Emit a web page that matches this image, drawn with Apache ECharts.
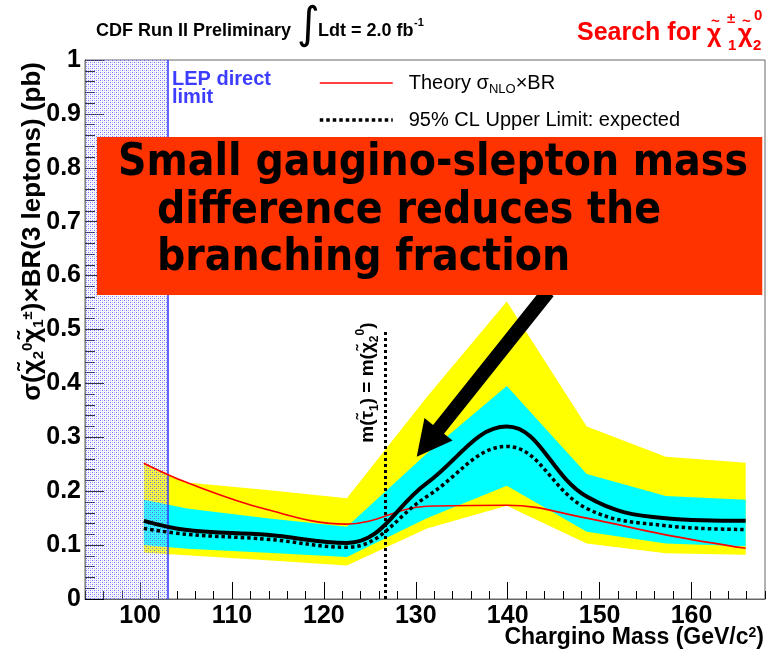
<!DOCTYPE html>
<html>
<head>
<meta charset="utf-8">
<script src="https://cdn.jsdelivr.net/npm/echarts@6/dist/echarts.min.js"></script>
<style>
  html, body { margin: 0; padding: 0; background: #fff; }
  #chart { width: 772px; height: 658px; }
</style>
</head>
<body>
<div id="chart"></div>
<script>
// Chargino mass points (GeV/c^2) at which the limits were evaluated
const massPoints = [100.4, 105.1, 113.8, 122.5, 131.2, 139.9, 148.6, 157.2, 165.9];
// Expected-limit bands (pb): +-2 sigma (yellow) and +-1 sigma (cyan)
const band2Low  = [0.086, 0.081, 0.072, 0.062, 0.131, 0.173, 0.103, 0.085, 0.082];
const band2High = [0.252, 0.216, 0.202, 0.187, 0.375, 0.552, 0.320, 0.264, 0.253];
const band1Low  = [0.100, 0.093, 0.086, 0.078, 0.150, 0.210, 0.125, 0.103, 0.098];
const band1High = [0.184, 0.168, 0.150, 0.134, 0.270, 0.395, 0.232, 0.191, 0.184];
// Observed and expected 95% CL upper limits, and NLO theory cross section x BR
const observed  = [0.145, 0.128, 0.119, 0.104, 0.215, 0.320, 0.190, 0.150, 0.145];
const expected  = [0.131, 0.120, 0.111, 0.096, 0.190, 0.283, 0.168, 0.136, 0.129];
const theory    = [0.252, 0.216, 0.166, 0.139, 0.172, 0.174, 0.150, 0.119, 0.094];

// Axis ranges and tick labels
const massMin = 94, massMax = 168;
const xTickLabels = [100, 110, 120, 130, 140, 150, 160];
const lepLimit = 103;          // LEP direct chargino limit
const staunMass = 126.7;       // m(stau1) = m(chi2^0)
const staunLineTop = 0.5;
// Callout: text box and arrow (data coordinates)
const noteBox = { x0: 95.3, x1: 167.7, y0: 0.564, y1: 0.857 };
const arrowTail = [144.4, 0.57];
const arrowTip = [130.1, 0.264];
const noteLines = ['Small gaugino-slepton mass', 'difference reduces the', 'branching fraction'];

const FONT = '"Liberation Sans", Arial, Helvetica, sans-serif';
const THEORY = 'Theory sigmaNLO x BR';
const EXPECTED = '95% CL Upper Limit: expected';

const pairs = ys => massPoints.map((x, i) => [x, ys[i]]);

// Filled band between two curves, drawn as one polygon through the axis scales
function bandSeries(name, lo, hi, color, z) {
  return {
    name, type: 'custom', silent: true, z,
    data: massPoints.map((x, i) => [x, lo[i], hi[i]]),
    encode: { x: 0, y: [1, 2] },
    renderItem: (params, api) => {
      if (params.dataIndex !== 0) return;
      const upper = massPoints.map((x, i) => api.coord([x, hi[i]]));
      const lower = massPoints.map((x, i) => api.coord([x, lo[i]])).reverse();
      return { type: 'polygon', shape: { points: upper.concat(lower) }, style: { fill: color } };
    }
  };
}

// Fine dot texture for the LEP-excluded region
function dotPattern() {
  const c = document.createElement('canvas');
  c.width = 4; c.height = 4;
  const g = c.getContext('2d');
  g.fillStyle = 'rgba(225,225,255,0.25)';
  g.fillRect(0, 0, 4, 4);
  g.fillStyle = 'rgba(60,60,255,0.7)';
  g.fillRect(0, 0, 1, 1); g.fillRect(2, 2, 1, 1);
  g.fillStyle = 'rgba(120,120,255,0.45)';
  g.fillRect(2, 0, 1, 1); g.fillRect(0, 2, 1, 1);
  return c;
}

const chart = echarts.init(document.getElementById('chart'), null, { renderer: 'canvas' });

chart.setOption({
  animation: false,
  backgroundColor: '#ffffff',
  grid: { left: 85, right: 7, top: 60, bottom: 59, show: true, borderColor: '#666', borderWidth: 1 },
  xAxis: [
    {
      type: 'value', min: massMin, max: massMax, position: 'bottom',
      axisLine: { show: true, lineStyle: { color: '#666', width: 1 } },
      axisTick: { show: true, inside: true, length: 17, customValues: xTickLabels, lineStyle: { color: '#000' } },
      axisLabel: { show: true, customValues: xTickLabels, margin: 5, fontFamily: FONT, fontWeight: 'bold', fontSize: 25, color: '#000' },
      splitLine: { show: false }
    },
    {
      type: 'value', min: massMin, max: massMax, interval: 2, position: 'bottom',
      axisLine: { show: false },
      axisTick: { show: true, inside: true, length: 8, lineStyle: { color: '#000' } },
      axisLabel: { show: false }, splitLine: { show: false }
    }
  ],
  yAxis: {
    type: 'value', min: 0, max: 1, interval: 0.1,
    axisLine: { show: true, lineStyle: { color: '#666', width: 1 } },
    axisTick: { show: true, inside: true, length: 19, lineStyle: { color: '#000' } },
    minorTick: { show: true, splitNumber: 5, length: 10, lineStyle: { color: '#000' } },
    axisLabel: { margin: 4, fontFamily: FONT, fontWeight: 'bold', fontSize: 25, color: '#000' },
    splitLine: { show: false }, minorSplitLine: { show: false }
  },
  legend: {
    data: [
      { name: THEORY, lineStyle: { color: '#ff0000', width: 1.6, type: 'solid' } },
      { name: EXPECTED, lineStyle: { color: '#000', width: 3.5, type: [3.5, 3] } }
    ],
    orient: 'vertical', left: 318, top: 73, padding: 0,
    itemWidth: 73, itemHeight: 14, itemGap: 14, selectedMode: false,
    itemStyle: { opacity: 0 },
    formatter: name => name === THEORY ? '{t|Theory σ}{s|NLO}{t|×BR}' : '{t|' + name + '}',
    textStyle: {
      color: '#000', fontFamily: FONT, fontSize: 20, padding: [0, 0, 0, 11],
      rich: {
        t: { fontFamily: FONT, fontSize: 20, color: '#000', lineHeight: 26 },
        s: { fontFamily: FONT, fontSize: 13, color: '#000', lineHeight: 14, verticalAlign: 'bottom' }
      }
    }
  },
  series: [
    bandSeries('band2', band2Low, band2High, '#ffff00', 1),
    bandSeries('band1', band1Low, band1High, '#00ffff', 2),
    { name: 'lep-excluded', type: 'line', data: [], silent: true, z: 3,
      markArea: { silent: true, z: 3, label: { show: false }, itemStyle: { color: { image: dotPattern(), repeat: 'repeat' } },
        data: [[{ coord: [massMin, 0] }, { coord: [lepLimit, 1] }]] } },
    { name: 'lep-line', type: 'line', data: [], silent: true, z: 4,
      markLine: { silent: true, z: 4, symbol: ['none', 'none'], label: { show: false },
        lineStyle: { color: '#3333ff', width: 1.5, type: 'solid' }, data: [{ xAxis: lepLimit }] } },
    { name: THEORY, type: 'line', data: pairs(theory), symbol: 'none', smooth: 0.4, silent: true, z: 5,
      lineStyle: { color: '#ff0000', width: 1.6 }, itemStyle: { color: '#ff0000' } },
    { name: 'staun-line', type: 'line', data: [], silent: true, z: 5,
      markLine: { silent: true, z: 5, symbol: ['none', 'none'], label: { show: false },
        lineStyle: { color: '#000', width: 3, type: [3, 3] },
        data: [[{ coord: [staunMass, 0] }, { coord: [staunMass, staunLineTop] }]] } },
    { name: EXPECTED, type: 'line', data: pairs(expected), symbol: 'none', smooth: 0.4, silent: true, z: 6,
      lineStyle: { color: '#000', width: 3.5, type: [3.5, 3] }, itemStyle: { color: '#000' } },
    { name: 'observed', type: 'line', data: pairs(observed), symbol: 'none', smooth: 0.4, silent: true, z: 7,
      lineStyle: { color: '#000', width: 4 } }
  ]
});

// Annotations placed from data coordinates
const px = p => chart.convertToPixel({ xAxisIndex: 0, yAxisIndex: 0 }, p);
const boxA = px([noteBox.x0, noteBox.y1]);
const boxB = px([noteBox.x1, noteBox.y0]);
const tail = px(arrowTail), tip = px(arrowTip);
const dx = tip[0] - tail[0], dy = tip[1] - tail[1];
const len = Math.hypot(dx, dy);
const ux = dx / len, uy = dy / len, nx = -uy, ny = ux;
const headLen = 35, headHalf = 18, shaftHalf = 7;
const bx = tip[0] - ux * headLen, by = tip[1] - uy * headLen;
const arrowPts = [
  [tail[0] + nx * shaftHalf, tail[1] + ny * shaftHalf],
  [bx + nx * shaftHalf, by + ny * shaftHalf],
  [bx + nx * headHalf, by + ny * headHalf],
  tip,
  [bx - nx * headHalf, by - ny * headHalf],
  [bx - nx * shaftHalf, by - ny * shaftHalf],
  [tail[0] - nx * shaftHalf, tail[1] - ny * shaftHalf]
];
const staunPx = px([staunMass, 0.29]);

const bold = (size, color) => ({ fontFamily: FONT, fontWeight: 'bold', fontSize: size, fill: color || '#000' });
const RED = '#ff0000';

const graphics = [
  // header
  { type: 'text', x: 96, y: 31, style: Object.assign({ text: 'CDF Run II Preliminary', verticalAlign: 'middle' }, bold(18)) },
  { type: 'text', x: 297, y: 27, style: { text: '∫', fontFamily: '"DejaVu Sans", sans-serif', fontSize: 44, fill: '#000', verticalAlign: 'middle' } },
  { type: 'text', x: 318, y: 31, style: Object.assign({ text: 'Ldt = 2.0 fb', verticalAlign: 'middle' }, bold(18)) },
  { type: 'text', x: 414, y: 23, style: Object.assign({ text: '-1', verticalAlign: 'middle' }, bold(11)) },
  { type: 'text', x: 577, y: 33, style: Object.assign({ text: 'Search for', verticalAlign: 'middle' }, bold(25, RED)) },
  { type: 'text', x: 707, y: 35, style: Object.assign({ text: 'χ', verticalAlign: 'middle' }, bold(25, RED)) },
  { type: 'text', x: 711, y: 22, style: Object.assign({ text: '~', verticalAlign: 'middle' }, bold(15, RED)) },
  { type: 'text', x: 727, y: 19, style: Object.assign({ text: '±', verticalAlign: 'middle' }, bold(15, RED)) },
  { type: 'text', x: 728, y: 46, style: Object.assign({ text: '1', verticalAlign: 'middle' }, bold(15, RED)) },
  { type: 'text', x: 738, y: 35, style: Object.assign({ text: 'χ', verticalAlign: 'middle' }, bold(25, RED)) },
  { type: 'text', x: 742, y: 22, style: Object.assign({ text: '~', verticalAlign: 'middle' }, bold(15, RED)) },
  { type: 'text', x: 754, y: 16, style: Object.assign({ text: '0', verticalAlign: 'middle' }, bold(15, RED)) },
  { type: 'text', x: 753, y: 46, style: Object.assign({ text: '2', verticalAlign: 'middle' }, bold(15, RED)) },
  // LEP label
  { type: 'text', x: 172, y: 70, z: 10, style: Object.assign({ text: 'LEP direct\nlimit', lineHeight: 18 }, bold(20, '#3d3dff')) },
  // y-axis title
  { type: 'text', x: 33, y: 62, rotation: Math.PI / 2, style: {
      text: '{n|σ(χ̃}{sub|2}{sup|0}{n|χ̃}{sub|1}{sup|±}{n|)×BR(3 leptons) (pb)}',
      align: 'right', verticalAlign: 'middle',
      rich: {
        n: bold(26),
        sub: Object.assign({ lineHeight: 16, verticalAlign: 'bottom' }, bold(15)),
        sup: Object.assign({ lineHeight: 16, verticalAlign: 'top' }, bold(15))
      } } },
  // x-axis title
  { type: 'text', x: 764, y: 638, style: {
      text: '{n|Chargino Mass (GeV/c}{sup|2}{n|)}', align: 'right', verticalAlign: 'middle',
      rich: { n: bold(23), sup: Object.assign({ lineHeight: 14, verticalAlign: 'top' }, bold(14)) } } },
  // m(stau1) = m(chi2) label
  { type: 'text', x: staunPx[0] - 18, y: staunPx[1], rotation: Math.PI / 2, z: 10, style: {
      text: '{n|m(τ̃}{sub|1}{n|) = m(χ̃}{sub|2}{sup|0}{n|)}', align: 'left', verticalAlign: 'middle',
      rich: {
        n: Object.assign({ lineHeight: 26 }, bold(19)),
        sub: Object.assign({ lineHeight: 12, verticalAlign: 'bottom' }, bold(12)),
        sup: Object.assign({ lineHeight: 12, verticalAlign: 'top' }, bold(12))
      } } },
  // arrow
  { type: 'polygon', z: 20, shape: { points: arrowPts }, style: { fill: '#000' } },
  // callout box
  { type: 'rect', z: 30, shape: { x: boxA[0], y: boxA[1], width: boxB[0] - boxA[0], height: boxB[1] - boxA[1] }, style: { fill: '#ff3300' } }
];
const lineYs = [164, 212, 259];
const lineIndent = [21, 60, 60];
noteLines.forEach((t, i) => {
  graphics.push({ type: 'text', z: 31, x: boxA[0] + lineIndent[i], y: lineYs[i], scaleX: 0.9, style: {
    text: t, fontFamily: '"DejaVu Sans", sans-serif', fontWeight: 'bold', fontSize: 44, fill: '#000', verticalAlign: 'middle' } });
});
chart.setOption({ graphic: graphics });
</script>
</body>
</html>
